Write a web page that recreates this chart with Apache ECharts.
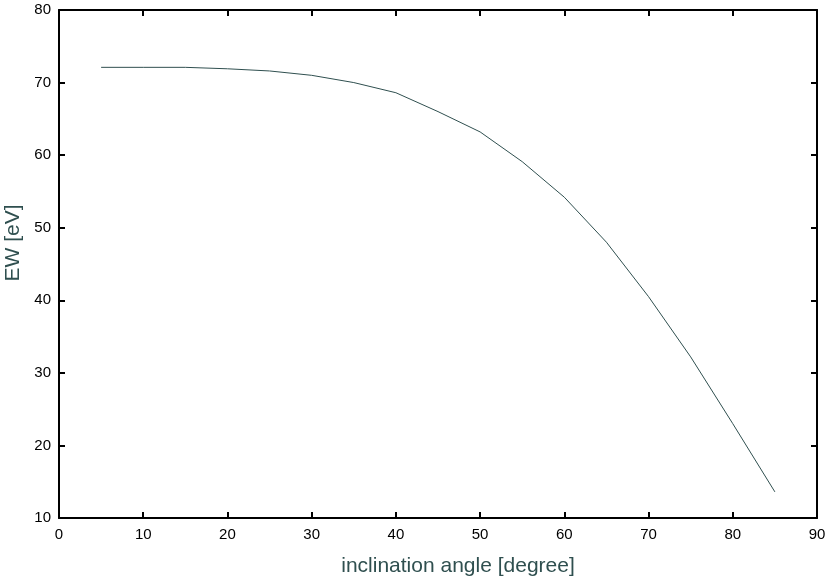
<!DOCTYPE html>
<html>
<head>
<meta charset="utf-8">
<script src="https://cdn.jsdelivr.net/npm/echarts@6/dist/echarts.min.js"></script>
<style>
    html, body { margin: 0; padding: 0; background: #fff; }
    #chartBox { width: 830px; height: 580px; }
</style>
</head>
<body>
<div id="chartBox"></div>
<script>
    // inclination angle [degree] vs EW [eV]
    var angles = [5, 10, 15, 20, 25, 30, 35, 40, 45, 50, 55, 60, 65, 70, 75, 80, 85];
    var ewValues = [72.1, 72.1, 72.1, 71.9, 71.6, 71.0, 70.0, 68.6, 66.0, 63.2, 59.1, 54.2, 48.0, 40.5, 32.2, 23.0, 13.6];

    var points = [];
    for (var i = 0; i < angles.length; i++) {
        points.push([angles[i], ewValues[i]]);
    }

    var lineColor = '#2f4f4f';
    var fontName = 'Liberation Sans, Arial, sans-serif';

    var chart = echarts.init(document.getElementById('chartBox'));

    // shared axis look: black frame, inward ticks, no grid lines
    function frameAxis(extra) {
        var base = {
            type: 'value',
            axisLine: { show: true, onZero: false, lineStyle: { color: '#000', width: 2 } },
            axisTick: { show: true, inside: true, length: 6, lineStyle: { color: '#000', width: 2 } },
            splitLine: { show: false },
            axisLabel: { color: '#000', fontSize: 15, fontFamily: fontName }
        };
        for (var k in extra) base[k] = extra[k];
        return base;
    }

    chart.setOption({
        animation: false,
        grid: { left: 59, right: 13, top: 10, bottom: 62, outerBoundsMode: 'none' },
        xAxis: [
            frameAxis({
                min: 0, max: 90, interval: 10, position: 'bottom',
                name: 'inclination angle [degree]',
                nameLocation: 'middle',
                nameGap: 38,
                nameTextStyle: { color: lineColor, fontSize: 21, fontFamily: fontName, padding: [0, 0, 0, 40] },
                axisLabel: { color: '#000', fontSize: 15, fontFamily: fontName, margin: 9 }
            }),
            frameAxis({
                min: 0, max: 90, interval: 10, position: 'top',
                axisLabel: { show: false }
            })
        ],
        yAxis: [
            frameAxis({
                min: 10, max: 80, interval: 10, position: 'left',
                name: 'EW [eV]',
                nameLocation: 'middle',
                nameGap: 29,
                nameTextStyle: { color: lineColor, fontSize: 21, fontFamily: fontName, padding: [0, 0, 0, 42] },
                axisLabel: { color: '#000', fontSize: 15, fontFamily: fontName, margin: 8 }
            }),
            frameAxis({
                min: 10, max: 80, interval: 10, position: 'right',
                axisLabel: { show: false }
            })
        ],
        series: [
            {
                type: 'line',
                data: points,
                xAxisIndex: 0,
                yAxisIndex: 0,
                showSymbol: false,
                lineStyle: { color: lineColor, width: 1 }
            }
        ]
    });
</script>
</body>
</html>
